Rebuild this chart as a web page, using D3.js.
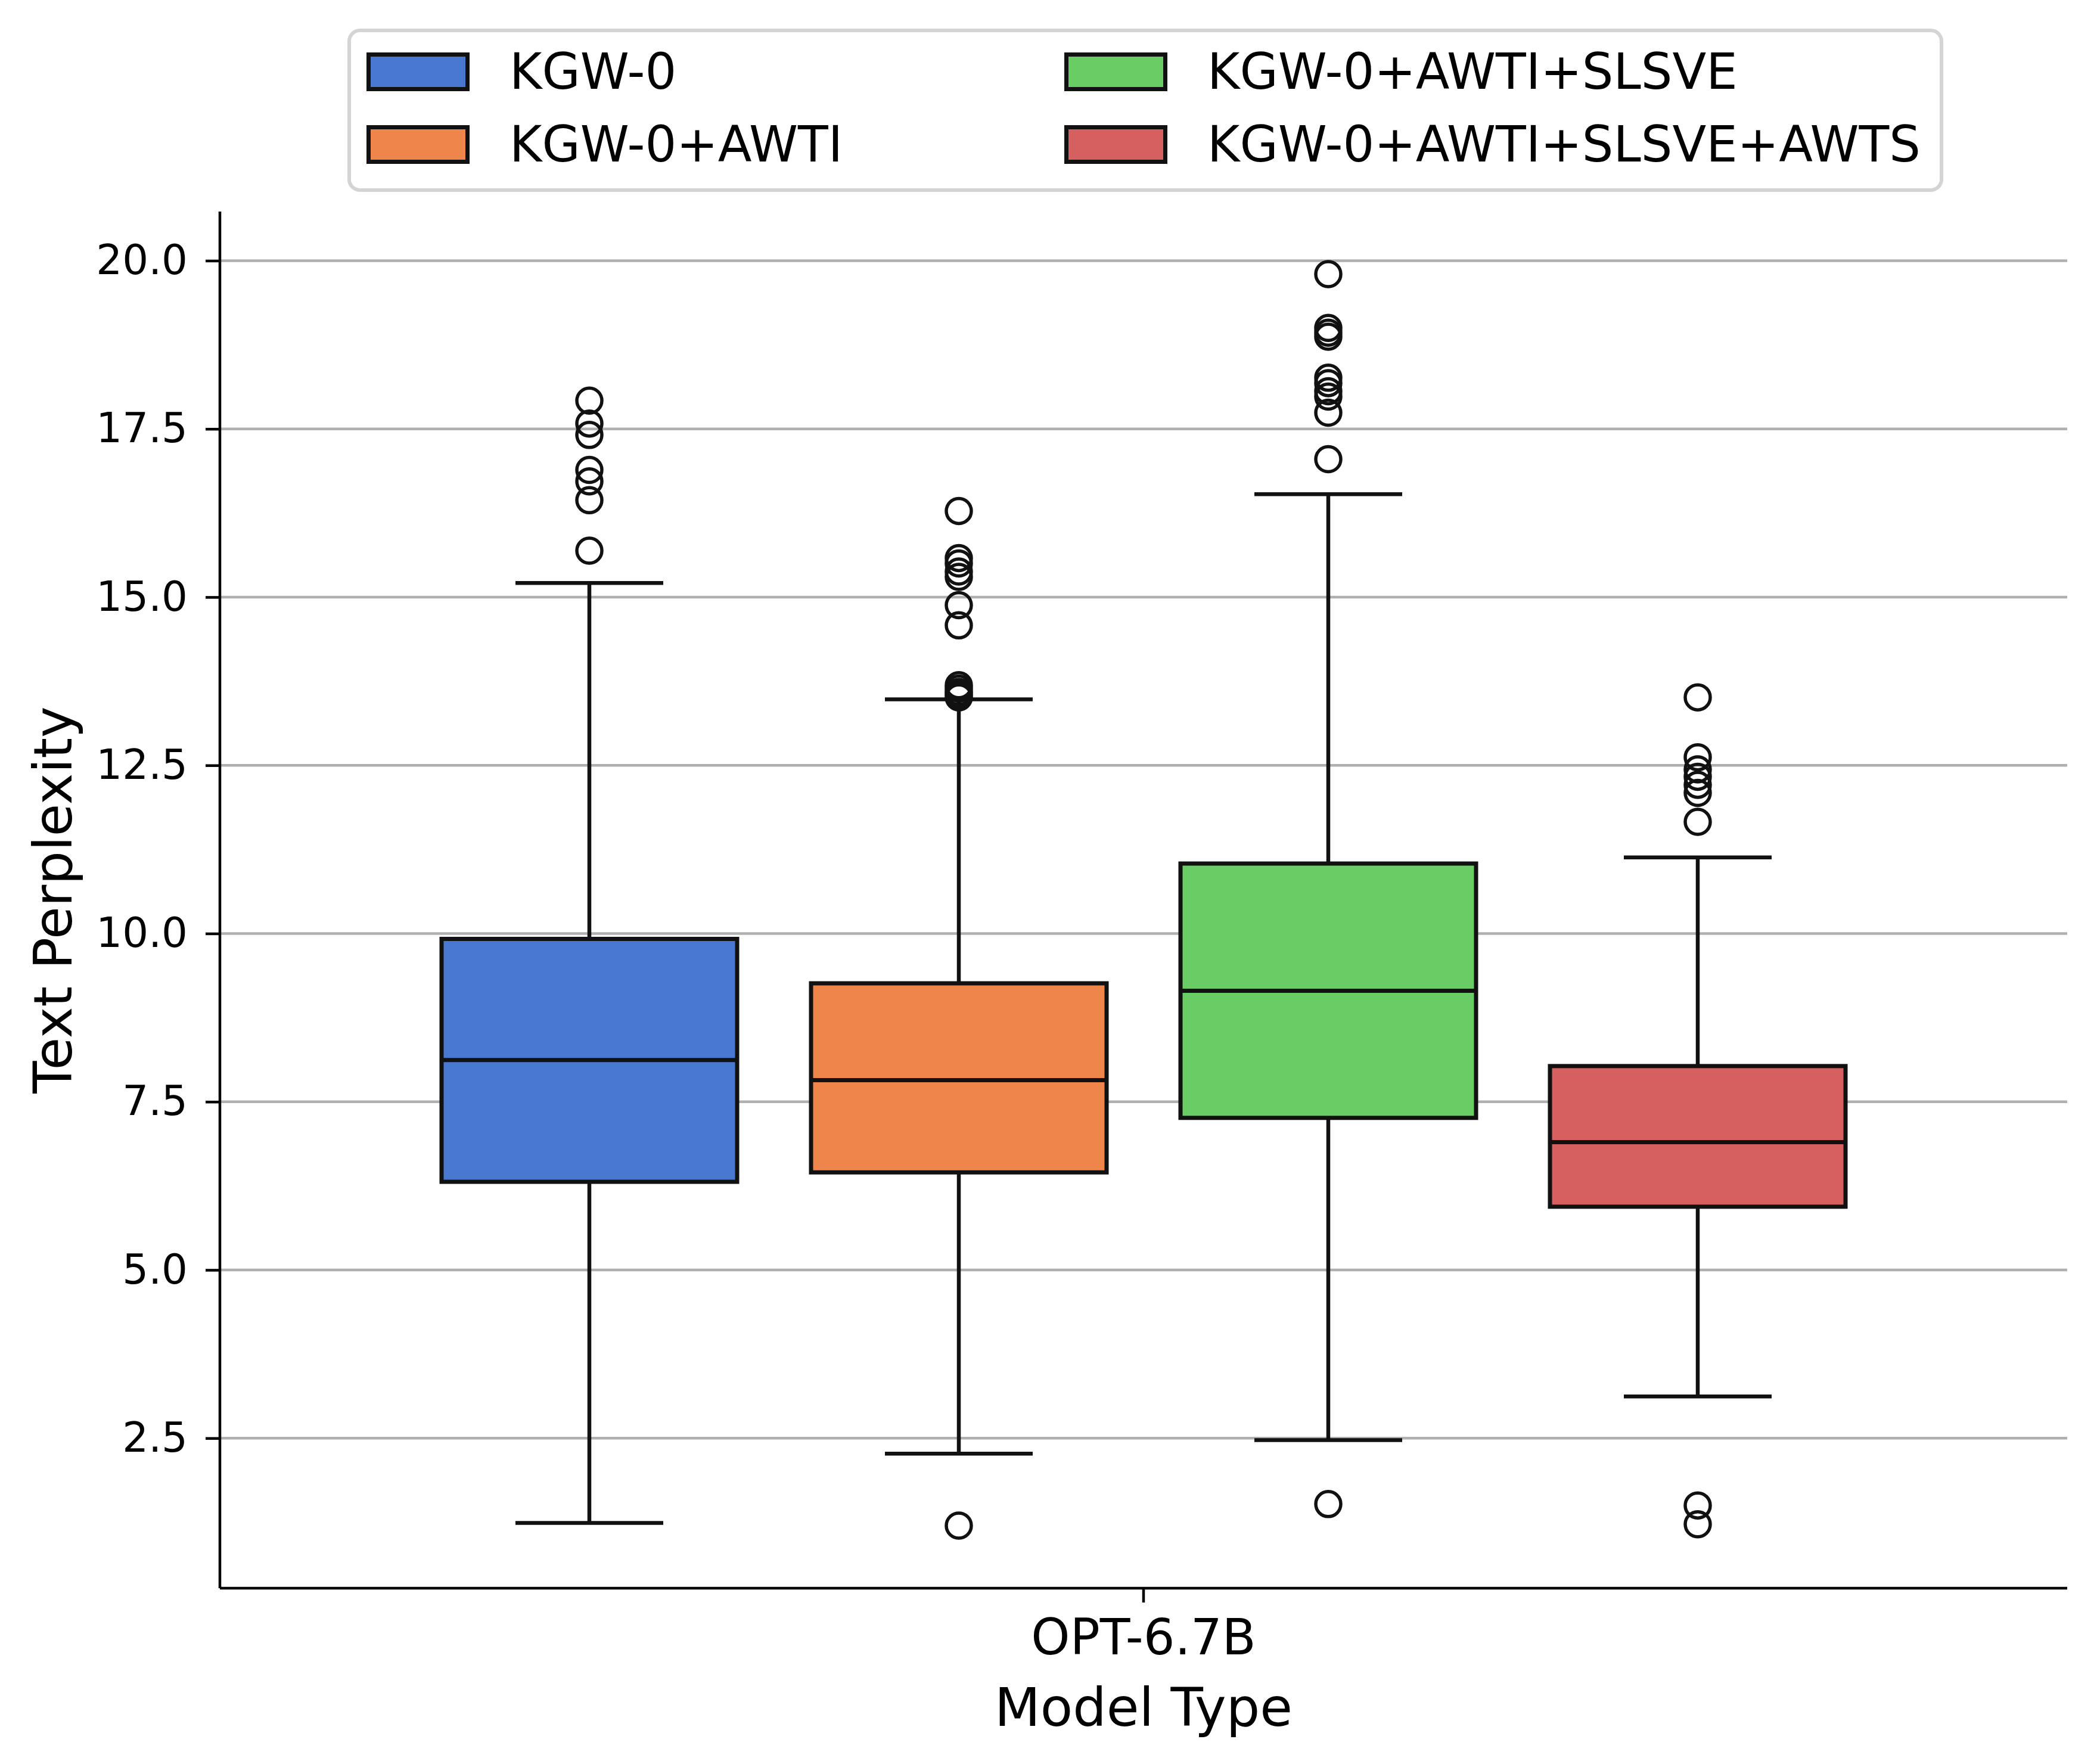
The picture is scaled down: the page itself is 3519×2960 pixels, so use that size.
<!DOCTYPE html>
<html>
<head>
<meta charset="utf-8">
<script src="https://cdn.jsdelivr.net/npm/d3@7"></script>
<style>
  body { margin: 0; background: #fff; }
  svg { display: block; font-family: "DejaVu Sans", sans-serif; }
</style>
</head>
<body>
<svg id="chart"></svg>
<script>
// data
const categories = ["OPT-6.7B"];
const methods = ["KGW-0", "KGW-0+AWTI", "KGW-0+AWTI+SLSVE", "KGW-0+AWTI+SLSVE+AWTS"];
const colors = ["#4878d0", "#ee854a", "#6acc64", "#d65f5f"];
const whiskerLow = [1.24, 2.27, 2.47, 3.12];
const q1 = [6.31, 6.45, 7.26, 5.94];
const medians = [8.12, 7.82, 9.15, 6.90];
const q3 = [9.92, 9.26, 11.04, 8.03];
const whiskerHigh = [15.21, 13.48, 16.53, 11.13];
const outliers = [
  [15.69, 16.44, 16.72, 16.89, 17.41, 17.58, 17.92],
  [1.20, 13.51, 13.55, 13.59, 13.64, 13.69, 14.58, 14.88, 15.30, 15.38, 15.50, 15.58, 16.28],
  [1.52, 17.05, 17.74, 17.98, 18.06, 18.18, 18.26, 18.87, 18.93, 19.00, 19.80],
  [1.22, 1.50, 11.66, 12.09, 12.21, 12.33, 12.44, 12.62, 13.51]
];
const yTicks = [2.5, 5.0, 7.5, 10.0, 12.5, 15.0, 17.5, 20.0];

const W = 3519, H = 2960;
const m = { left: 369, right: 50, top: 355, bottom: 295 };
const gw = W - m.left - m.right, gh = H - m.top - m.bottom;
const lineCol = "#111";

const svg = d3.select("#chart").attr("width", W).attr("height", H);
svg.append("rect").attr("width", W).attr("height", H).attr("fill", "#fff");

const boxes = methods.map((name, i) => ({
  name, i, color: colors[i],
  lo: whiskerLow[i], q1: q1[i], med: medians[i], q3: q3[i], hi: whiskerHigh[i],
  out: outliers[i]
}));

// scales
const allVals = boxes.flatMap(b => [b.lo, b.hi, ...b.out]);
const [vmin, vmax] = d3.extent(allVals);
const pad = (vmax - vmin) * 0.05;
const y = d3.scaleLinear().domain([vmin - pad, vmax + pad]).range([gh, 0]);
const x = d3.scaleBand().domain(categories).range([0, gw]);
const xHue = d3.scaleBand().domain(methods)
  .range([x.bandwidth() * 0.1, x.bandwidth() * 0.9]);
const boxW = xHue.bandwidth() * 0.8;

const g = svg.append("g").attr("transform", `translate(${m.left},${m.top})`);

// grid lines
g.append("g")
  .selectAll("line")
  .data(yTicks)
  .join("line")
  .attr("x1", 0).attr("x2", gw)
  .attr("y1", d => y(d)).attr("y2", d => y(d))
  .attr("stroke", "#b0b0b0").attr("stroke-width", 4.5);

// boxes
const bg = g.append("g")
  .selectAll("g")
  .data(boxes)
  .join("g")
  .attr("transform", d => `translate(${x(categories[0]) + xHue(d.name) + xHue.bandwidth() / 2},0)`);

bg.append("line")
  .attr("x1", 0).attr("x2", 0)
  .attr("y1", d => y(d.q3)).attr("y2", d => y(d.hi))
  .attr("stroke", lineCol).attr("stroke-width", 6.5);
bg.append("line")
  .attr("x1", 0).attr("x2", 0)
  .attr("y1", d => y(d.q1)).attr("y2", d => y(d.lo))
  .attr("stroke", lineCol).attr("stroke-width", 6.5);
// caps
bg.selectAll("line.cap")
  .data(d => [d.lo, d.hi])
  .join("line")
  .attr("class", "cap")
  .attr("x1", -boxW / 4).attr("x2", boxW / 4)
  .attr("y1", d => y(d)).attr("y2", d => y(d))
  .attr("stroke", lineCol).attr("stroke-width", 6.5);

bg.append("rect")
  .attr("x", -boxW / 2).attr("width", boxW)
  .attr("y", d => y(d.q3)).attr("height", d => y(d.q1) - y(d.q3))
  .attr("fill", d => d.color)
  .attr("stroke", lineCol).attr("stroke-width", 7);
bg.append("line")
  .attr("x1", -boxW / 2).attr("x2", boxW / 2)
  .attr("y1", d => y(d.med)).attr("y2", d => y(d.med))
  .attr("stroke", lineCol).attr("stroke-width", 7);

bg.selectAll("circle")
  .data(d => d.out)
  .join("circle")
  .attr("cx", 0).attr("cy", d => y(d)).attr("r", 21)
  .attr("fill", "none").attr("stroke", lineCol).attr("stroke-width", 5.5);

// axes
const yAxis = g.append("g")
  .call(d3.axisLeft(y).tickValues(yTicks).tickFormat(d3.format(".1f"))
    .tickSize(24).tickSizeOuter(0).tickPadding(30));
yAxis.select(".domain").attr("d", `M0,0V${gh}`).attr("stroke-width", 4.5);
yAxis.selectAll(".tick line").attr("stroke-width", 4.5);
yAxis.selectAll("text").attr("font-size", 69).attr("fill", "#000")
  .attr("font-family", "DejaVu Sans");

const xAxis = g.append("g")
  .attr("transform", `translate(0,${gh})`)
  .call(d3.axisBottom(x).tickSize(24).tickSizeOuter(0).tickPadding(28));
xAxis.select(".domain").attr("d", `M0,0H${gw}`).attr("stroke-width", 4.5);
xAxis.selectAll(".tick line").attr("stroke-width", 4.5);
xAxis.selectAll("text").attr("font-size", 83).attr("fill", "#000")
  .attr("font-family", "DejaVu Sans");

// axis labels
svg.append("text")
  .attr("x", m.left + gw / 2).attr("y", 2896)
  .attr("text-anchor", "middle").attr("font-size", 89)
  .text("Model Type");
svg.append("text")
  .attr("transform", `translate(120,${m.top + gh / 2}) rotate(-90)`)
  .attr("text-anchor", "middle").attr("font-size", 89)
  .text("Text Perplexity");

// legend
const leg = svg.append("g");
leg.append("rect")
  .attr("x", 586).attr("y", 51).attr("width", 2672).attr("height", 268)
  .attr("rx", 18)
  .attr("fill", "#fff").attr("stroke", "#d4d4d4").attr("stroke-width", 6);
const colX = [615, 1786];
const rowY = [88, 210];
const li = leg.selectAll("g.item")
  .data(boxes)
  .join("g")
  .attr("class", "item")
  .attr("transform", d => `translate(${colX[Math.floor(d.i / 2)]},${rowY[d.i % 2]})`);
li.append("rect")
  .attr("x", 3.5).attr("y", 3.5).attr("width", 166).attr("height", 58)
  .attr("fill", d => d.color).attr("stroke", lineCol).attr("stroke-width", 7);
li.append("text")
  .attr("x", 240).attr("y", 61)
  .attr("font-size", 83)
  .text(d => d.name);
</script>
</body>
</html>
